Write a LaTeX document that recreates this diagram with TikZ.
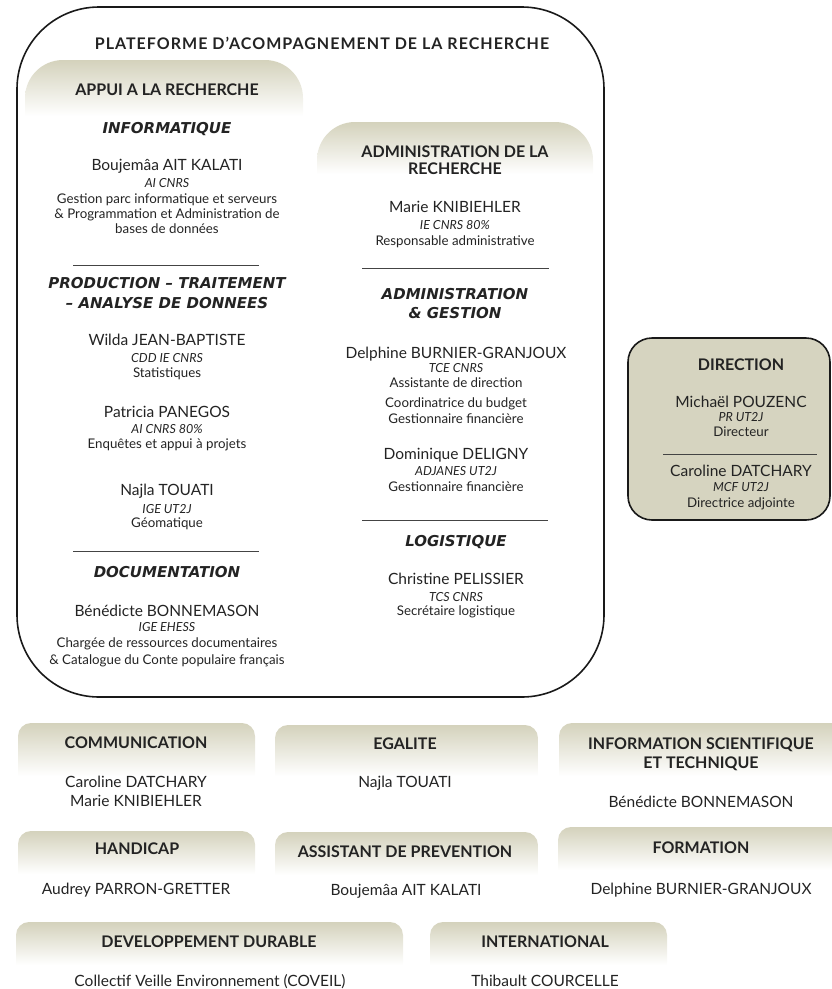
\documentclass[tikz,border=0pt]{standalone}
\usepackage{fontspec}
\setmainfont{Lato}
\newfontfamily\comicf{DejaVu Sans}
\newfontfamily\titlef{Lato}[LetterSpace=6.4]
\definecolor{khaki}{RGB}{212,210,188}
\definecolor{dirfill}{RGB}{214,212,192}
\definecolor{txt}{RGB}{35,35,35}
\newcommand\bandbox[5]{%
  \begin{scope}
    \clip[rounded corners=#5] (#1,#2) rectangle (#3,{#4+60});
    \shade[top color=khaki, middle color=khaki!80!white, bottom color=white] (#1,#2) rectangle (#3,#4);
  \end{scope}}
\tikzset{
  every node/.style={inner sep=0pt, text=txt, text depth=0pt},
  sname/.style={font=\fontsize{15.5}{17}\selectfont, text height=11pt},
  srole/.style={font=\fontsize{12.5}{14}\selectfont\itshape, text height=9pt},
  sdesc/.style={font=\fontsize{13.3}{15}\selectfont, text height=9.5pt},
  shead/.style={font=\fontsize{16}{18}\selectfont\bfseries, text height=11.5pt},
  stitle/.style={font=\titlef\fontsize{16}{18}\selectfont\bfseries, text height=11.5pt},
  scomic/.style={font=\comicf\fontsize{15}{17}\selectfont\bfseries\itshape, text height=10.8pt},
  sepline/.style={line width=1pt, draw=txt!85},
  bigframe/.style={line width=1.6pt, draw=black!90},
}
\begin{document}
\begin{tikzpicture}[x=1pt,y=-1pt]
\useasboundingbox (0,0) rectangle (832,989);
% ---------- big platform box
\bandbox{25}{60}{303}{116}{38}
\bandbox{317}{122}{593}{174}{38}
\draw[bigframe, rounded corners=82] (17,7) rectangle (604,697);
\node[stitle] (title) at (322,44) {PLATEFORME D’ACOMPAGNEMENT DE LA RECHERCHE};
% left column
\node[shead] (appui) at (167,90) {APPUI A LA RECHERCHE};
\node[scomic] (info) at (167,128) {INFORMATIQUE};
\node[sname] (l1) at (167,165) {Boujemâa AIT KALATI};
\node[srole] (l2) at (167,183) {AI CNRS};
\node[sdesc] (l3) at (167,199) {Gestion parc informatique et serveurs};
\node[sdesc] (l4) at (167,214) {\& Programmation et Administration de};
\node[sdesc] (l5) at (167,229) {bases de données};
\coordinate (s1a) at (73,265); \coordinate (s1b) at (259,265);
\draw[sepline] (s1a) -- (s1b);
\node[scomic] (prod1) at (167,283) {PRODUCTION – TRAITEMENT};
\node[scomic] (prod2) at (167,303) {– ANALYSE DE DONNEES};
\node[sname] (l6) at (167,340) {Wilda JEAN-BAPTISTE};
\node[srole] (l7) at (167,358) {CDD IE CNRS};
\node[sdesc] (l8) at (167,373) {Statistiques};
\node[sname] (l9) at (167,412) {Patricia PANEGOS};
\node[srole] (l10) at (167,429) {AI CNRS 80\%};
\node[sdesc] (l11) at (167,444) {Enquêtes et appui à projets};
\node[sname] (l12) at (167,490) {Najla TOUATI};
\node[srole] (l13) at (167,509) {IGE UT2J};
\node[sdesc] (l14) at (167,523) {Géomatique};
\coordinate (s2a) at (73,551); \coordinate (s2b) at (259,551);
\draw[sepline] (s2a) -- (s2b);
\node[scomic] (doc) at (167,572) {DOCUMENTATION};
\node[sname] (l15) at (167,611) {Bénédicte BONNEMASON};
\node[srole] (l16) at (167,627) {IGE EHESS};
\node[sdesc] (l17) at (167,643) {Chargée de ressources documentaires};
\node[sdesc] (l18) at (167,660) {\& Catalogue du Conte populaire français};
% right column
\node[shead] (adm1) at (455,152) {ADMINISTRATION DE LA};
\node[shead] (adm2) at (455,169) {RECHERCHE};
\node[sname] (r1) at (455,207) {Marie KNIBIEHLER};
\node[srole] (r2) at (455,225) {IE CNRS 80\%};
\node[sdesc] (r3) at (455,241) {Responsable administrative};
\coordinate (s3a) at (362,268); \coordinate (s3b) at (549,268);
\draw[sepline] (s3a) -- (s3b);
\node[scomic] (ag1) at (455,294) {ADMINISTRATION};
\node[scomic] (ag2) at (455,313) {\& GESTION};
\node[sname] (r4) at (456,353) {Delphine BURNIER-GRANJOUX};
\node[srole] (r5) at (456,368) {TCE CNRS};
\node[sdesc] (r6) at (456,383) {Assistante de direction};
\node[sdesc] (r7) at (456,403) {Coordinatrice du budget};
\node[sdesc] (r8) at (456,419) {Gestionnaire financière};
\node[sname] (r9) at (456,454) {Dominique DELIGNY};
\node[srole] (r10) at (456,471) {ADJANES UT2J};
\node[sdesc] (r11) at (456,487) {Gestionnaire financière};
\coordinate (s4a) at (362,520); \coordinate (s4b) at (548,520);
\draw[sepline] (s4a) -- (s4b);
\node[scomic] (logi) at (456,541) {LOGISTIQUE};
\node[sname] (r12) at (456,579) {Christine PELISSIER};
\node[srole] (r13) at (456,597) {TCS CNRS};
\node[sdesc] (r14) at (456,611) {Secrétaire logistique};
% ---------- direction
\draw[bigframe, fill=dirfill, rounded corners=24] (628,338) rectangle (830,520);
\node[shead] (dir) at (741,365) {DIRECTION};
\node[sname] (d1) at (741,402) {Michaël POUZENC};
\node[srole] (d2) at (741,417) {PR UT2J};
\node[sdesc] (d3) at (741,432) {Directeur};
\coordinate (s5a) at (663,454); \coordinate (s5b) at (817,454);
\draw[sepline] (s5a) -- (s5b);
\node[sname] (d4) at (741,471) {Caroline DATCHARY};
\node[srole] (d5) at (741,487) {MCF UT2J};
\node[sdesc] (d6) at (741,503) {Directrice adjointe};
% ---------- bottom boxes
\bandbox{18}{723}{255}{776}{13}
\node[shead] (comm) at (136,743) {COMMUNICATION};
\node[sname] (c1) at (136,782) {Caroline DATCHARY};
\node[sname] (c2) at (136,801) {Marie KNIBIEHLER};
\bandbox{275}{725}{538}{776}{13}
\node[shead] (ega) at (405,744) {EGALITE};
\node[sname] (e1) at (405,782) {Najla TOUATI};
\bandbox{559}{723}{846}{776}{13}
\node[shead] (ist1) at (701,744) {INFORMATION SCIENTIFIQUE};
\node[shead] (ist2) at (701,763) {ET TECHNIQUE};
\node[sname] (i1) at (701,802) {Bénédicte BONNEMASON};
\bandbox{18}{831}{255}{874}{13}
\node[shead] (hand) at (137,849) {HANDICAP};
\node[sname] (h1) at (136,889) {Audrey PARRON-GRETTER};
\bandbox{275}{832}{538}{875}{13}
\node[shead] (prev) at (405,852) {ASSISTANT DE PREVENTION};
\node[sname] (p1) at (406,890) {Boujemâa AIT KALATI};
\bandbox{558}{827}{846}{870}{13}
\node[shead] (form) at (701,848) {FORMATION};
\node[sname] (f1) at (701,889) {Delphine BURNIER-GRANJOUX};
\bandbox{16}{922}{403}{965}{13}
\node[shead] (dd) at (209,942) {DEVELOPPEMENT DURABLE};
\node[sname] (dd1) at (210,981) {Collectif Veille Environnement (COVEIL)};
\bandbox{430}{922}{667}{965}{13}
\node[shead] (intl) at (545,942) {INTERNATIONAL};
\node[sname] (in1) at (545,981) {Thibault COURCELLE};
\end{tikzpicture}
\end{document}
